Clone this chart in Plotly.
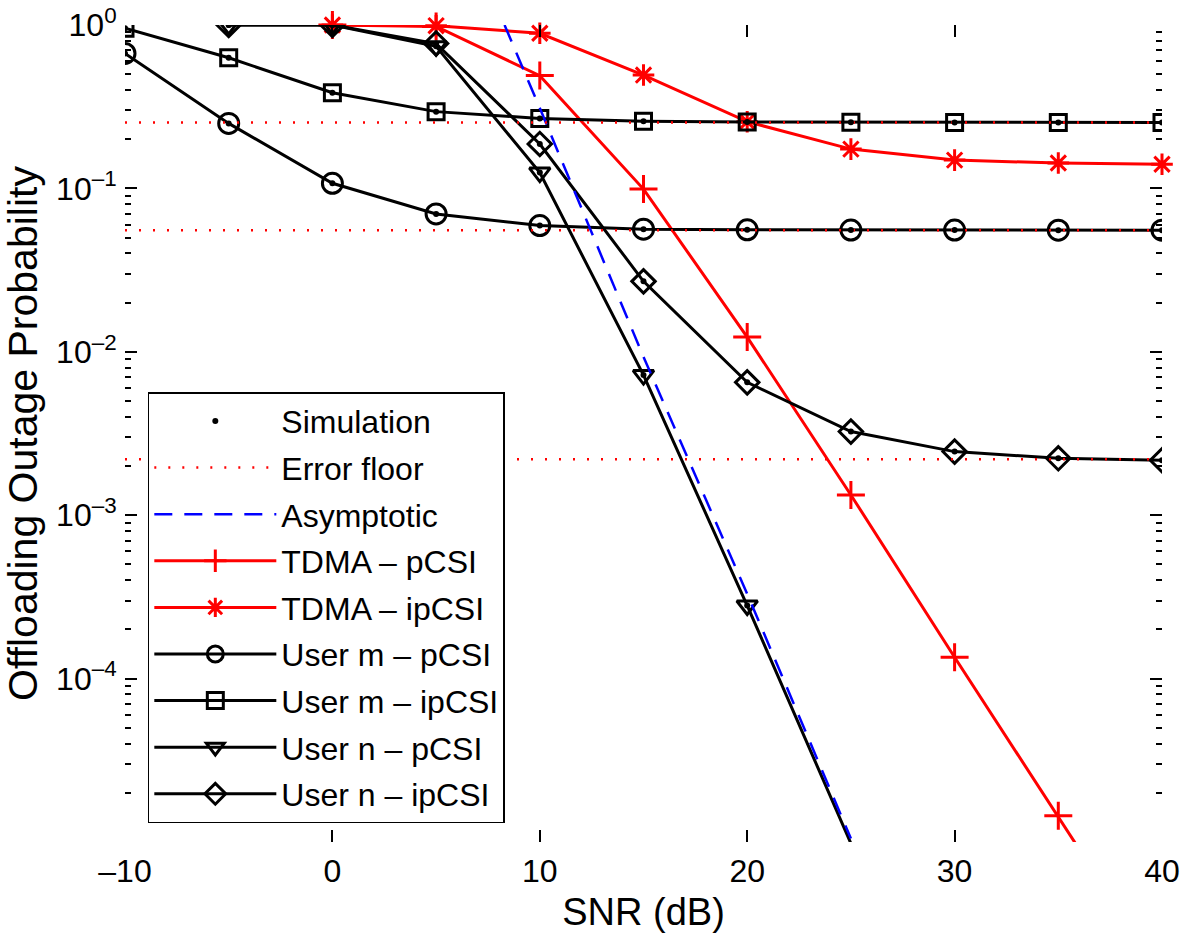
import plotly.graph_objects as go

# ---------------- data ----------------
snr_tdma = [0, 5, 10, 15, 20, 25, 30, 35, 40]
tdma_pcsi = [1.0, 0.98, 0.49, 0.099, 0.0123, 1.33e-3, 1.35e-4, 1.45e-5, 1.5e-6]
tdma_ipcsi = [1.0, 0.99, 0.89, 0.494, 0.256, 0.174, 0.149, 0.143, 0.1405]

snr_m = [-10, -5, 0, 5, 10, 15, 20, 25, 30, 35, 40]
user_m_pcsi = [0.67, 0.25, 0.1075, 0.0698, 0.0592, 0.0563, 0.0558, 0.0556, 0.0556, 0.0555, 0.0555]
user_m_ipcsi = [0.955, 0.63, 0.385, 0.295, 0.268, 0.258, 0.255, 0.254, 0.253, 0.253, 0.253]

snr_n_p = [-5, 0, 5, 10, 15, 20, 25]
user_n_pcsi = [1.0, 1.0, 0.74, 0.125, 7.2e-3, 2.8e-4, 9.8e-6]
snr_n_ip = [-5, 0, 5, 10, 15, 20, 25, 30, 35, 40]
user_n_ipcsi = [1.0, 1.0, 0.77, 0.187, 0.027, 6.5e-3, 3.25e-3, 2.45e-3, 2.23e-3, 2.17e-3]

snr_asym = [8.3, 10, 15, 20, 25]
asymptotic = [1.0, 0.31, 9.3e-3, 3.3e-4, 1.05e-5]

error_floors = [0.253, 0.0555, 0.0022]
floor_span = [-10, 40]

x_ticks = [-10, 0, 10, 20, 30, 40]
x_ticktext = ["\u201310", "0", "10", "20", "30", "40"]
y_ticks = [1e-4, 1e-3, 1e-2, 1e-1, 1]
y_ticktext = ["10<sup>\u20134</sup>", "10<sup>\u20133</sup>", "10<sup>\u20132</sup>",
              "10<sup>\u20131</sup>", "10<sup>0</sup>"]

YMIN = 1e-5
FONT = "Liberation Sans, Arial, Helvetica, sans-serif"

fig = go.Figure()


def sizes(yvals, s):
    return [s if v >= YMIN * 0.999 else 0 for v in yvals]


# Simulation dots (black series only)
sim_x, sim_y = [], []
for xs, ys in [(snr_m, user_m_pcsi), (snr_m, user_m_ipcsi), (snr_n_p, user_n_pcsi), (snr_n_ip, user_n_ipcsi)]:
    for a, b in zip(xs, ys):
        if b >= YMIN:
            sim_x.append(a)
            sim_y.append(b)

fig.add_trace(go.Scatter(x=sim_x, y=sim_y, mode="markers", name="Simulation",
                         marker=dict(color="black", size=6, opacity=1), zorder=10, cliponaxis=False,
                         legendgroup="g1", legendrank=1))

fx, fy = [], []
for f in error_floors:
    fx += floor_span + [None]
    fy += [f, f, None]
fig.add_trace(go.Scatter(x=fx, y=fy, mode="lines", name="Error floor",
                         line=dict(color="red", width=2.5, dash="2px,12px"), zorder=8,
                         legendgroup="g2", legendrank=2))

fig.add_trace(go.Scatter(x=snr_asym, y=asymptotic, mode="lines", name="Asymptotic",
                         line=dict(color="blue", width=2.5, dash="18px,12px"), zorder=7,
                         legendgroup="g3", legendrank=3))

series = [
    ("TDMA \u2013 pCSI", snr_tdma, tdma_pcsi, "red", "cross-thin-open", 20, 4),
    ("TDMA \u2013 ipCSI", snr_tdma, tdma_ipcsi, "red", "asterisk-open", 18, 5),
    ("User m \u2013 pCSI", snr_m, user_m_pcsi, "black", "circle-open", 20, 6),
    ("User m \u2013 ipCSI", snr_m, user_m_ipcsi, "black", "square-open", 16, 7),
    ("User n \u2013 pCSI", snr_n_p, user_n_pcsi, "black", "triangle-down-open", 18, 8),
    ("User n \u2013 ipCSI", snr_n_ip, user_n_ipcsi, "black", "diamond-open", 18, 9),
]
for name, xs, ys, col, sym, sz, rank in series:
    fig.add_trace(go.Scatter(
        x=xs, y=ys, mode="lines+markers", name=name,
        line=dict(color=col, width=3),
        marker=dict(symbol=sym, size=sizes(ys, sz), color=col, opacity=1,
                    line=dict(color=col, width=3)),
        cliponaxis=False, zorder=1 if col == "red" else 2,
        legendgroup="g%d" % rank, legendrank=rank))

minor_vals = [k * 10 ** e for e in range(-5, 0) for k in range(2, 10)]

fig.update_layout(
    width=1181, height=935,
    margin=dict(l=125, r=19, t=25, b=93),
    paper_bgcolor="white", plot_bgcolor="white",
    font=dict(family=FONT, size=32, color="black"),
    showlegend=True,
    legend=dict(x=0.022, y=0.023, xanchor="left", yanchor="bottom",
                bgcolor="white", bordercolor="black", borderwidth=1.5,
                font=dict(family=FONT, size=32, color="black"),
                itemwidth=122, tracegroupgap=2, traceorder="grouped"),
    xaxis=dict(range=[-10, 40], tickvals=x_ticks, ticktext=x_ticktext,
               ticks="inside", ticklen=12, tickwidth=1.5, tickcolor="black",
               showline=True, linecolor="black", linewidth=2, mirror="ticks",
               showgrid=False, zeroline=False, automargin=False,
               tickfont=dict(size=32),
               title=dict(text="SNR (dB)", font=dict(size=38), standoff=10)),
    yaxis=dict(type="log", range=[-5, 0], tickvals=y_ticks, ticktext=y_ticktext,
               ticks="inside", ticklen=12, tickwidth=1.5, tickcolor="black",
               minor=dict(tickvals=minor_vals, ticks="inside", ticklen=6,
                          tickwidth=1.5, tickcolor="black", showgrid=False),
               showline=True, linecolor="black", linewidth=2, mirror="ticks",
               showgrid=False, zeroline=False, automargin=False,
               tickfont=dict(size=32),
               title=dict(text="Offloading Outage Probability", font=dict(size=41), standoff=6)),
)

fig.write_html("out.html", config={"displayModeBar": False},
               post_script="document.body.style.margin='0';")
